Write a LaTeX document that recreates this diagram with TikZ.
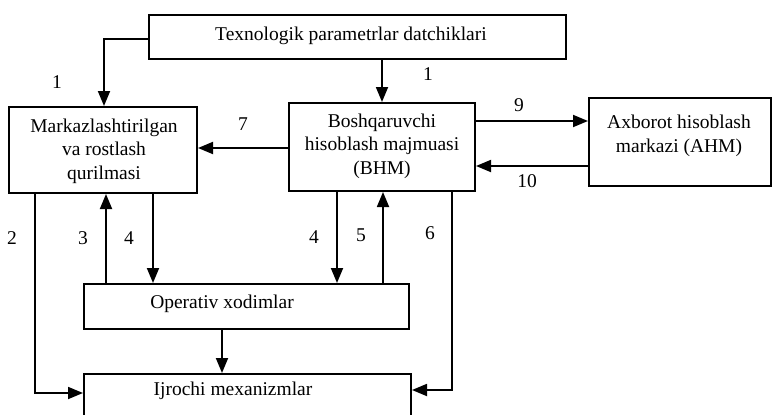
\documentclass[tikz,border=0pt]{standalone}
\usepackage{fontspec}
\setmainfont{Liberation Serif}
\usetikzlibrary{arrows.meta}
\begin{document}
\begin{tikzpicture}[x=1pt,y=-1pt,
  box/.style={draw, line width=2pt, rectangle, inner sep=0pt, anchor=north west},
  txt/.style={font=\fontsize{19.5}{23.5}\selectfont, align=center, inner sep=0pt},
  lbl/.style={font=\fontsize{19.5}{23.5}\selectfont, inner sep=0pt},
  arr/.style={line width=1.8pt, -{Triangle[length=15pt,width=12pt]}},
  ln/.style={line width=1.8pt}]
\useasboundingbox (0,0) rectangle (772,415);
\begin{scope}
\clip (0,0) rectangle (772,415);
% boxes
\node[box, minimum width=417pt, minimum height=44pt] (top) at (148,14) {};
\node[box, minimum width=188pt, minimum height=86pt] (markaz) at (8,106) {};
\node[box, minimum width=186pt, minimum height=88pt] (bhm) at (288,102) {};
\node[box, minimum width=182pt, minimum height=88pt] (ahm) at (588,97) {};
\node[box, minimum width=325pt, minimum height=45pt] (oper) at (83,283) {};
\node[box, minimum width=327pt, minimum height=60pt] (ijro) at (83,373) {};
% texts
\node[txt] (ttop) at (351,36) {Texnologik parametrlar datchiklari};
\node[txt] (tmarkaz) at (104,151) {Markazlashtirilgan\\va rostlash\\qurilmasi};
\node[txt] (tbhm) at (382,146) {Boshqaruvchi\\hisoblash majmuasi\\(BHM)};
\node[txt] (tahm) at (679,136) {Axborot hisoblash\\markazi (AHM)};
\node[txt] (toper) at (222,304) {Operativ xodimlar};
\node[txt] (tijro) at (233,391) {Ijrochi mexanizmlar};
% connectors
\draw[arr] (top.west |- 0,39) -| (markaz.north -| 104,0);
\draw[arr] (top.south -| bhm.north) -- (bhm.north);
\draw[arr] (bhm.west |- 0,148) -- (markaz.east |- 0,148);
\draw[arr] (bhm.east |- 0,121) -- (ahm.west |- 0,121);
\draw[arr] (ahm.west |- 0,166) -- (bhm.east |- 0,166);
\draw[arr] (markaz.south -| 35,0) |- (ijro.west |- 0,393);
\draw[arr] (oper.north -| 106,0) -- (markaz.south -| 106,0);
\draw[arr] (markaz.south -| 153,0) -- (oper.north -| 153,0);
\draw[arr] (bhm.south -| 337,0) -- (oper.north -| 337,0);
\draw[arr] (oper.north -| 383,0) -- (bhm.south -| 383,0);
\draw[arr] (bhm.south -| 452,0) |- (ijro.east |- 0,390);
\draw[arr] (oper.south -| 222,0) -- (ijro.north -| 222,0);
% labels
\node[lbl] (l1a) at (57,82) {1};
\node[lbl] (l1b) at (428,74) {1};
\node[lbl] (l7) at (243,124) {7};
\node[lbl] (l9) at (519,105) {9};
\node[lbl] (l10) at (527,181) {10};
\node[lbl] (l2) at (12,238) {2};
\node[lbl] (l3) at (83,238) {3};
\node[lbl] (l4a) at (129,238) {4};
\node[lbl] (l4b) at (314,237) {4};
\node[lbl] (l5) at (361,235) {5};
\node[lbl] (l6) at (430,233) {6};
\end{scope}
\end{tikzpicture}
\end{document}
